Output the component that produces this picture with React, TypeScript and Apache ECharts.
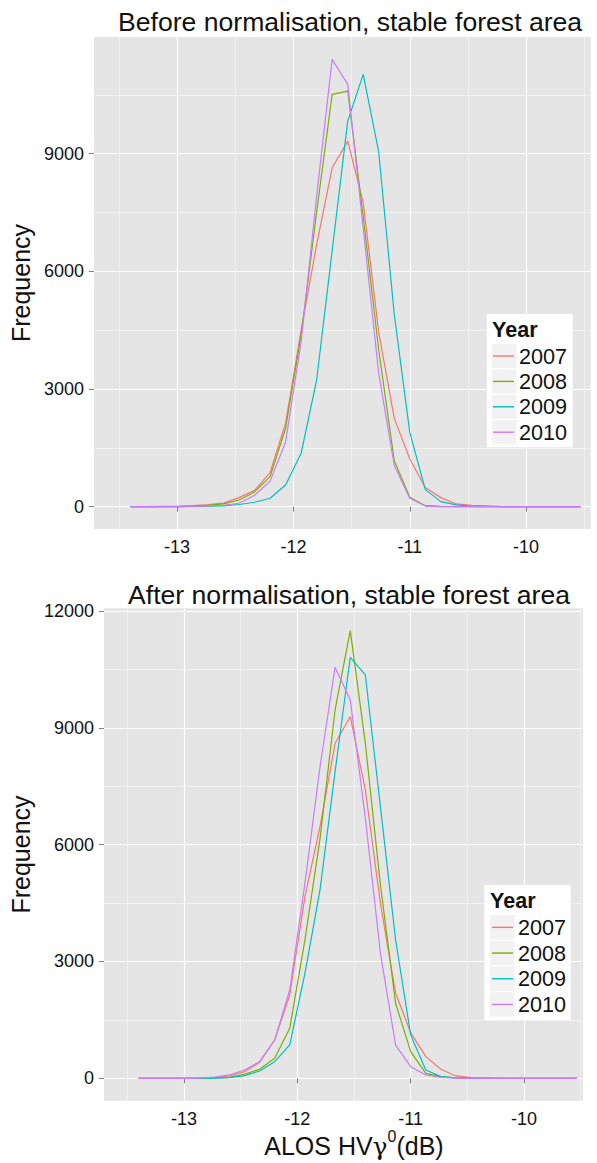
import React, { useEffect, useRef } from 'react';
import * as echarts from 'echarts';

// Bin centres (dB) of the frequency polygons
const BIN_CENTRES = [
  -13.4, -13.267, -13.133, -13.0, -12.867, -12.733, -12.6, -12.467, -12.333, -12.2,
  -12.067, -11.933, -11.8, -11.667, -11.533, -11.4, -11.267, -11.133, -11.0, -10.867,
  -10.733, -10.6, -10.467, -10.333, -10.2, -10.067, -9.933, -9.8, -9.667, -9.533,
];

const YEARS = ['2007', '2008', '2009', '2010'];
const COLORS = ['#F8766D', '#7CAE00', '#00BFC4', '#C77CFF'];

// Before normalisation
const BEFORE_2007 = [0, 0, 5, 10, 25, 55, 90, 230, 415, 870, 2128, 4511, 6681, 8640, 9319, 7750, 4450, 2250, 1220, 490, 230, 69, 35, 20, 0, 0, 0, 0, 0, 0];
const BEFORE_2008 = [0, 0, 0, 3, 12, 30, 69, 170, 375, 766, 2000, 4383, 7516, 10511, 10595, 7400, 4000, 1170, 240, 25, 5, 0, 0, 0, 0, 0, 0, 0, 0, 0];
const BEFORE_2009 = [0, 0, 0, 0, 5, 10, 22, 55, 112, 214, 553, 1363, 3235, 6520, 9829, 11021, 9050, 4900, 1900, 440, 128, 43, 15, 5, 0, 0, 0, 0, 0, 0];
const BEFORE_2010 = [0, 0, 0, 0, 5, 20, 35, 87, 290, 650, 1650, 4213, 7925, 11404, 10766, 7100, 3405, 1050, 214, 15, 3, 0, 0, 0, 0, 0, 0, 0, 0, 0];

// After normalisation
const AFTER_2007 = [0, 0, 0, 0, 5, 15, 60, 171, 410, 984, 2139, 4664, 6461, 8603, 9286, 7404, 4494, 2183, 1172, 556, 231, 60, 20, 10, 0, 0, 0, 0, 0, 0];
const AFTER_2008 = [0, 0, 0, 0, 0, 8, 26, 103, 231, 513, 1285, 3552, 6150, 9458, 11494, 8600, 4964, 1926, 684, 128, 43, 10, 0, 0, 0, 0, 0, 0, 0, 0];
const AFTER_2009 = [0, 0, 0, 0, 0, 5, 17, 68, 188, 427, 856, 2697, 4836, 7874, 10811, 10357, 6975, 3552, 1113, 214, 43, 10, 0, 0, 0, 0, 0, 0, 0, 0];
const AFTER_2010 = [0, 0, 0, 0, 5, 34, 86, 213, 427, 984, 2268, 5008, 8000, 10554, 9715, 6677, 3210, 850, 299, 86, 26, 5, 0, 0, 0, 0, 0, 0, 0, 0];

const X_TICKS = [-13, -12, -11, -10];
const X_MINOR = [-13.5, -12.5, -11.5, -10.5, -9.5];
const Y_TICKS_TOP = [0, 3000, 6000, 9000];
const Y_TICKS_BOTTOM = [0, 3000, 6000, 9000, 12000];
const Y_MINOR = [1500, 4500, 7500, 10500];

const TITLES = ['Before normalisation, stable forest area', 'After normalisation, stable forest area'];

const FONT = "'Liberation Sans', Arial, Helvetica, sans-serif";
const TEXT = '#111111';

function pairs(values: number[]) {
  return BIN_CENTRES.map((x, i) => [x, values[i]]);
}

function mainX(gridIndex: number, min: number, max: number, withName: boolean) {
  const ax: any = {
    type: 'value', gridIndex, min, max, position: 'bottom',
    axisLine: { show: false },
    axisTick: { show: true, length: 5, lineStyle: { color: '#7f7f7f', width: 1 }, customValues: X_TICKS },
    axisLabel: { customValues: X_TICKS, color: TEXT, fontSize: 18, fontFamily: FONT, margin: 9, formatter: (v: number) => String(v) },
    splitLine: { show: true, lineStyle: { color: '#ffffff', width: 1.2 } },
    axisPointer: { show: false },
  };
  if (withName) {
    ax.name = '{a|ALOS HV}{g|γ}{s|0}{a|(dB)}';
    ax.nameLocation = 'middle';
    ax.nameGap = 22;
    ax.nameTextStyle = {
      fontSize: 25, fontFamily: FONT, color: TEXT, padding: [0, 0, 0, 21],
      rich: {
        a: { fontSize: 25, fontFamily: FONT, color: TEXT, lineHeight: 30, verticalAlign: 'bottom' },
        g: { fontSize: 25, fontFamily: "'DejaVu Serif', serif", color: TEXT, lineHeight: 30, verticalAlign: 'bottom' },
        s: { fontSize: 16, fontFamily: FONT, color: TEXT, lineHeight: 14, verticalAlign: 'top' },
      },
    };
  }
  return ax;
}

function minorX(gridIndex: number, min: number, max: number) {
  return {
    type: 'value', gridIndex, min, max, position: 'top',
    axisLine: { show: false },
    axisTick: { show: false, customValues: X_MINOR },
    axisLabel: { show: false, customValues: X_MINOR },
    splitLine: { show: true, lineStyle: { color: '#F2F2F2', width: 0.8 } },
  };
}

function mainY(gridIndex: number, min: number, max: number, ticks: number[], nameGap: number) {
  return {
    type: 'value', gridIndex, min, max, position: 'left',
    axisLine: { show: false },
    axisTick: { show: true, length: 5, lineStyle: { color: '#7f7f7f', width: 1 }, customValues: ticks },
    axisLabel: { customValues: ticks, color: TEXT, fontSize: 18, fontFamily: FONT, margin: 10, formatter: (v: number) => String(v) },
    splitLine: { show: true, lineStyle: { color: '#ffffff', width: 1.2 } },
    name: 'Frequency', nameLocation: 'middle', nameGap,
    nameTextStyle: { fontSize: 25, fontFamily: FONT, color: TEXT },
  };
}

function minorY(gridIndex: number, min: number, max: number) {
  return {
    type: 'value', gridIndex, min, max, position: 'right',
    axisLine: { show: false },
    axisTick: { show: false, customValues: Y_MINOR },
    axisLabel: { show: false, customValues: Y_MINOR },
    splitLine: { show: true, lineStyle: { color: '#F2F2F2', width: 0.8 } },
  };
}

function legendGraphics(boxX: number, boxY: number, boxW: number, boxH: number, keyX: number, firstCentre: number, step: number, yearY: number) {
  const els: any[] = [
    { type: 'rect', z: 3, shape: { x: boxX, y: boxY, width: boxW, height: boxH }, style: { fill: '#ffffff' } },
    {
      type: 'text', z: 4, x: keyX, y: yearY,
      style: { text: 'Year', fontSize: 21.6, fontWeight: 'bold', fontFamily: FONT, fill: TEXT, verticalAlign: 'middle', align: 'left' },
    },
  ];
  YEARS.forEach((_, i) => {
    const c = firstCentre + step * i;
    els.push({ type: 'rect', z: 4, shape: { x: keyX, y: c - step / 2 + 0.6, width: 24.5, height: step - 1.2 }, style: { fill: '#F2F2F2' } });
  });
  return els;
}

export default function App() {
  const ref = useRef<HTMLDivElement>(null);

  useEffect(() => {
    if (!ref.current) return;
    const chart = echarts.init(ref.current, undefined, { renderer: 'svg' });

    const topLegendTop = 343.3;
    const topStep = 25.4;
    const botLegendTop = 914.5;
    const botStep = 25.7;

    const seriesDefs = [
      { grid: 0, values: [BEFORE_2007, BEFORE_2008, BEFORE_2009, BEFORE_2010] },
      { grid: 1, values: [AFTER_2007, AFTER_2008, AFTER_2009, AFTER_2010] },
    ];
    const series: any[] = [];
    seriesDefs.forEach((d) => {
      d.values.forEach((vals, i) => {
        series.push({
          type: 'line', name: YEARS[i],
          xAxisIndex: d.grid * 2, yAxisIndex: d.grid * 2,
          data: pairs(vals), showSymbol: false, symbol: 'none',
          lineStyle: { color: COLORS[i], width: 1.2 },
          itemStyle: { color: COLORS[i] },
          emphasis: { disabled: true },
          silent: true,
          z: 2,
        });
      });
    });

    const option: any = {
      animation: false,
      backgroundColor: '#ffffff',
      textStyle: { fontFamily: FONT },
      title: [
        { text: TITLES[0], left: 118, top: 7, padding: 0, textStyle: { fontSize: 26.6, fontWeight: 'normal', fontFamily: FONT, color: TEXT, lineHeight: 30 } },
        { text: TITLES[1], left: 128, top: 580, padding: 0, textStyle: { fontSize: 26.6, fontWeight: 'normal', fontFamily: FONT, color: TEXT, lineHeight: 30 } },
      ],
      grid: [
        { left: 92.7, top: 37, width: 498, height: 492, show: true, backgroundColor: '#E5E5E5', borderWidth: 0, containLabel: false },
        { left: 100, top: 608.3, width: 483, height: 492.4, show: true, backgroundColor: '#E5E5E5', borderWidth: 0, containLabel: false },
      ],
      xAxis: [
        mainX(0, -13.714, -9.445, false),
        minorX(0, -13.714, -9.445),
        mainX(1, -13.706, -9.48, true),
        minorX(1, -13.706, -9.48),
      ],
      yAxis: [
        mainY(0, -570, 11975, Y_TICKS_TOP, 41),
        minorY(0, -570, 11975),
        mainY(1, -575, 12069, Y_TICKS_BOTTOM, 48),
        minorY(1, -575, 12069),
      ],
      legend: [
        {
          data: YEARS, orient: 'vertical', left: 493, top: topLegendTop, itemWidth: 21, itemHeight: 1.4, itemGap: 0,
          icon: 'rect', padding: 0, selectedMode: false, z: 6,
          textStyle: { fontSize: 21.6, fontFamily: FONT, color: TEXT, lineHeight: topStep },
        },
        {
          data: YEARS, orient: 'vertical', left: 492, top: botLegendTop, itemWidth: 21, itemHeight: 1.4, itemGap: 0,
          icon: 'rect', padding: 0, selectedMode: false, z: 6,
          textStyle: { fontSize: 21.6, fontFamily: FONT, color: TEXT, lineHeight: botStep },
        },
      ],
      graphic: [
        ...legendGraphics(486.7, 314, 86, 133.3, 492, topLegendTop + topStep / 2, topStep, 329),
        ...legendGraphics(484.3, 885, 86.4, 135, 490, botLegendTop + botStep / 2, botStep, 900),
      ],
      series,
    };

    chart.setOption(option);
    return () => chart.dispose();
  }, []);

  return <div ref={ref} style={{ position: 'absolute', left: 0, top: 0, width: 597, height: 1163 }} />;
}
